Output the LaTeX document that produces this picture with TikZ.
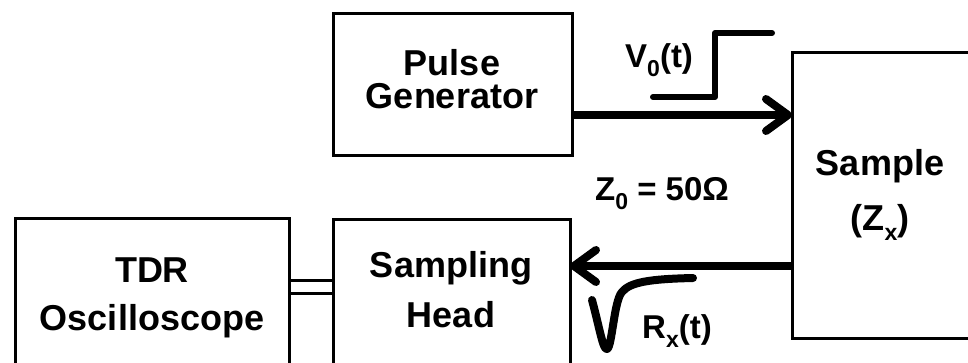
\documentclass[tikz,border=0pt]{standalone}
\usepackage{fontspec}
\setmainfont{Liberation Sans}
\usetikzlibrary{arrows.meta}
\newcommand\lowsub[1]{\raisebox{-0.28em}{\fontsize{23}{23}\selectfont #1}}
\begin{document}
\begin{tikzpicture}[x=1pt,y=-1pt,
  box/.style={draw, line width=3pt, rectangle, inner sep=0pt, outer sep=0pt, anchor=north west},
  lbl/.style={font=\fontsize{36}{40}\selectfont\bfseries, inner sep=0pt, anchor=base},
  sig/.style={font=\fontsize{33}{36}\selectfont\bfseries, inner sep=0pt, anchor=base west},
  wire/.style={line width=8pt, -{Straight Barb[length=22pt,width=32pt,round]}},
  link/.style={line width=3pt},
  wave/.style={line width=6pt, line cap=round, line join=round}]
\useasboundingbox (0,0) rectangle (968,362);
\clip (0,0) rectangle (968,362);
% boxes
\node[box, minimum width=239pt, minimum height=142pt] (pg) at (333,13) {};
\node[box, minimum width=274pt, minimum height=200pt] (tdr) at (15,218) {};
\node[box, minimum width=237pt, minimum height=200pt] (sh) at (333,219) {};
\node[box, minimum width=250pt, minimum height=286pt] (smp) at (792,52) {};
% box texts
\node[lbl] (pgA) at (452,75) {Pulse};
\node[lbl] (pgB) at (452,108) {Generator};
\node[lbl] (tdrA) at (152,282) {TDR};
\node[lbl] (tdrB) at (152,330) {Oscilloscope};
\node[lbl] (shA) at (451,277) {Sampling};
\node[lbl] (shB) at (451,327) {Head};
\node[lbl] (smpA) at (880,175) {Sample};
\node[lbl] (smpB) at (880,230) {(Z\lowsub{x})};
% connectors
\coordinate (fy) at (0,115);
\coordinate (ry) at (0,266);
\coordinate (d1) at (0,280);
\coordinate (d2) at (0,293);
\draw[wire] (pg.east |- fy) -- (smp.west |- fy);
\draw[wire] (smp.west |- ry) -- (sh.east |- ry);
\draw[link] (tdr.east |- d1) -- (sh.west |- d1);
\draw[link] (tdr.east |- d2) -- (sh.west |- d2);
% waveforms
\draw[wave] (653,97) -- (715,97) -- (715,33) -- (772,33);
\draw[wave, line width=8pt] (592,300) .. controls (600,330) and (603,350) .. (607,349)
  .. controls (612,348) and (614,300) .. (622,292)
  .. controls (630,282) and (650,279) .. (693,278);
% labels
\node[sig] (v0) at (625,67) {V\lowsub{0}(t)};
\node[sig] (z0) at (595,200) {Z\lowsub{0} = 50Ω};
\node[sig] (rx) at (642,338) {R\lowsub{x}(t)};
\end{tikzpicture}
\end{document}
